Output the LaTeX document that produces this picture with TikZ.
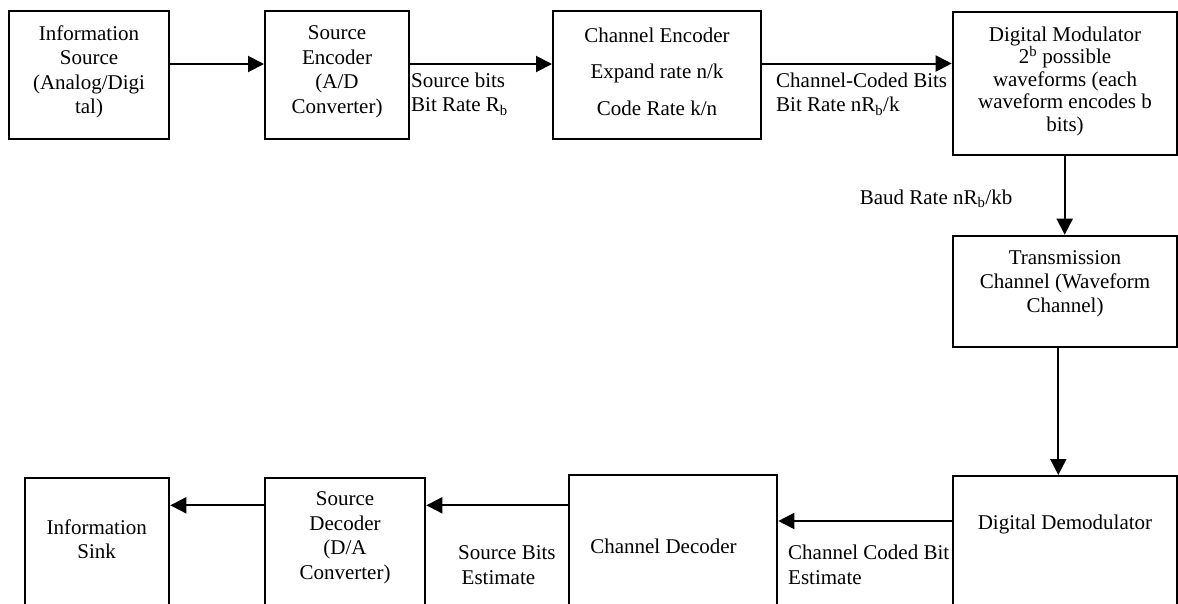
\documentclass[tikz,border=0pt]{standalone}
\usepackage{fontspec}
\setmainfont{Liberation Serif}
\usetikzlibrary{arrows.meta}
\tikzset{
  blk/.style={draw, line width=2pt, rectangle, inner sep=0pt},
  txt/.style={inner sep=0pt, align=center, font=\fontsize{21pt}{24.5pt}\selectfont},
  lbl/.style={inner sep=0pt, align=left, anchor=west, font=\fontsize{21pt}{24.5pt}\selectfont},
  arr/.style={line width=2pt, -{Triangle[length=16pt,width=16pt]}}
}
\begin{document}
\begin{tikzpicture}[x=1pt,y=-1pt]
\useasboundingbox (0,0) rectangle (1178,603);
\fill[white] (0,0) rectangle (1178,603);
\clip (0,0) rectangle (1178,603);
% boxes
\node[blk, minimum width=160.6pt, minimum height=128pt] (is) at (89,75) {};
\node[blk, minimum width=144pt, minimum height=128pt] (se) at (337,75) {};
\node[blk, minimum width=208pt, minimum height=128pt] (ce) at (657,75) {};
\node[blk, minimum width=224pt, minimum height=143.3pt] (dm) at (1064.7,83.35) {};
\node[blk, minimum width=224pt, minimum height=111pt] (tc) at (1064.7,291.2) {};
\node[blk, minimum width=224pt, minimum height=164pt] (dd) at (1064.7,558) {};
\node[blk, minimum width=208.6pt, minimum height=165pt] (cd) at (673,557.5) {};
\node[blk, minimum width=160.3pt, minimum height=162pt] (sd) at (345.15,559) {};
\node[blk, minimum width=144.3pt, minimum height=162pt] (sink) at (97.15,559) {};
% box texts
\node[txt] (ist) at (89,72) {Information\\Source\\(Analog/Digi\\tal)};
\node[txt] (set) at (337,72) {Source\\Encoder\\(A/D\\Converter)};
\node[txt] (cet) at (657,71.5) {Channel Encoder\\[12pt]Expand rate n/k\\[12pt]Code Rate k/n};
\node[txt, font=\fontsize{21pt}{22.5pt}\selectfont] (dmt) at (1065,81) {Digital Modulator\\2\textsuperscript{b} possible\\waveforms (each\\waveform encodes b\\bits)};
\node[txt, font=\fontsize{21pt}{24pt}\selectfont] (tct) at (1065,284) {Transmission\\Channel (Waveform\\Channel)};
\node[txt] (ddt) at (1065,524.3) {Digital Demodulator};
\node[txt] (cdt) at (663.5,546.7) {Channel Decoder};
\node[txt] (sdt) at (345,538) {Source\\Decoder\\(D/A\\Converter)};
\node[txt] (sinkt) at (96.7,539.4) {Information\\Sink};
% connectors
\draw[arr] ([yshift=11pt]is.east) -- ([yshift=11pt]is.east -| se.west);
\draw[arr] ([yshift=11pt]se.east) -- ([yshift=11pt]se.east -| ce.west);
\draw[arr] ([yshift=11.5pt]ce.east) -- ([yshift=11.5pt]ce.east -| dm.west);
\draw[arr] (dm.south) -- (tc.north);
\draw[arr] ([xshift=-6.4pt]tc.south) -- ([xshift=-6.4pt]tc.south |- dd.north);
\draw[arr] ([yshift=37pt]dd.west) -- ([yshift=37pt]dd.west -| cd.east);
\draw[arr] ([yshift=52.2pt]cd.west) -- ([yshift=52.2pt]cd.west -| sd.east);
\draw[arr] ([yshift=53.7pt]sd.west) -- ([yshift=53.7pt]sd.west -| sink.east);
% connector labels
\node[lbl] (l1) at (411,94) {Source bits\\Bit Rate R\textsubscript{b}};
\node[lbl] (l2) at (776,94) {Channel-Coded Bits\\Bit Rate nR\textsubscript{b}/k};
\node[txt] (l3) at (936,199) {Baud Rate nR\textsubscript{b}/kb};
\node[lbl] (l4) at (788,565) {Channel Coded Bit\\Estimate};
\node[lbl] (l5) at (458,565) {Source Bits\\\,Estimate};
\end{tikzpicture}
\end{document}
